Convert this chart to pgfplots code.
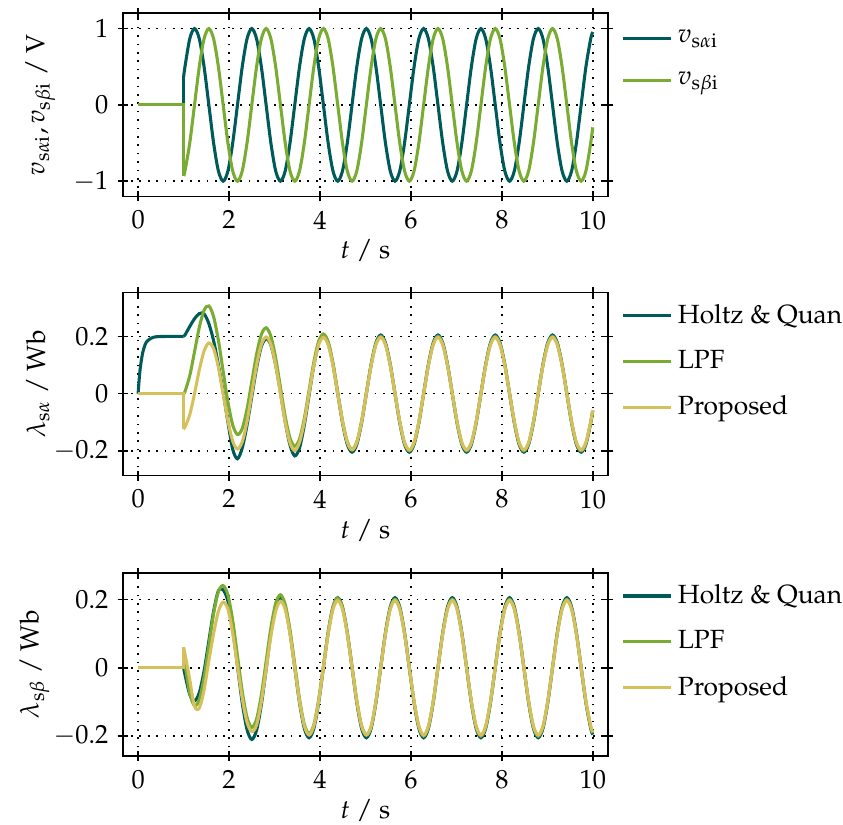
\documentclass[border=0pt]{standalone}
\usepackage[T1]{fontenc}
\usepackage{mathpazo}
\usepackage{pgfplots}
\pgfplotsset{compat=1.18}
\usepackage{pgfplotstable}

\definecolor{cteal}{RGB}{0,90,90}
\definecolor{cgreen}{RGB}{122,172,52}
\definecolor{cyellow}{RGB}{214,192,92}

\pgfplotstableread{
t a b ah al ap bh bl bp
1 0.3654 -0.9309 0.2 0 -0.1222 0 0.03 0.06
1.03 0.5 -0.866 0.205 0.0073 -0.1171 -0.02 0.0097 0.04
1.135 0.866 -0.5 0.235 0.0625 -0.0737 -0.078 -0.0745 -0.035
1.24 1 0 0.262 0.1463 0 -0.097 -0.1111 -0.113
1.345 0.866 0.5 0.28 0.2317 0.0827 -0.073 -0.0932 -0.118
1.45 0.5 0.866 0.279 0.2918 0.149 -0.01 -0.028 -0.065
1.555 0 1 0.245 0.3068 0.1773 0.078 0.0649 0.02
1.66 -0.5 0.866 0.185 0.2693 0.1573 0.165 0.1584 0.1
1.765 -0.866 0.5 0.1 0.1865 0.0926 0.225 0.2228 0.165
1.87 -1 0 0.005 0.0779 0 0.228 0.2403 0.192
1.975 -0.866 -0.5 -0.1 -0.0298 -0.0951 0.195 0.2128 0.172
2.08 -0.5 -0.866 -0.195 -0.11 -0.1663 0.115 0.1384 0.1
2.185 0 -1 -0.228 -0.1431 -0.1936 0.005 0.0345 0.005
2.29 0.5 -0.866 -0.19 -0.122 -0.1687 -0.103 -0.0689 -0.09
2.395 0.866 -0.5 -0.11 -0.0539 -0.0979 -0.181 -0.1452 -0.16
2.5 1 0 -0.01 0.0415 0 -0.21 -0.1748 -0.187
2.605 0.866 0.5 0.09 0.1374 0.0986 -0.183 -0.1505 -0.168
2.71 0.5 0.866 0.165 0.2068 0.1712 -0.108 -0.0796 -0.1
2.815 0 1 0.192 0.2303 0.1982 -0.005 0.0184 -0.005
2.92 -0.5 0.866 0.17 0.2005 0.1719 0.1025 0.1166 0.092
3.025 -0.866 0.5 0.1 0.1245 0.0994 0.1775 0.1881 0.165
3.13 -1 0 0.005 0.0221 0 0.205 0.2134 0.195
3.235 -0.866 -0.5 -0.098 -0.0801 -0.0996 0.1775 0.1853 0.1706
3.34 -0.5 -0.866 -0.18 -0.1553 -0.1726 0.1025 0.1109 0.0985
3.445 0 -1 -0.218 -0.1839 -0.1995 0 0.0098 0
3.55 0.5 -0.866 -0.19 -0.1587 -0.1706 -0.1025 -0.0912 -0.0985
3.655 0.866 -0.5 -0.11 -0.0869 -0.0985 -0.1775 -0.1653 -0.1706
3.76 1 0 -0.005 0.0118 0 -0.205 -0.1928 -0.197
3.865 0.866 0.5 0.098 0.1106 0.0985 -0.1775 -0.1668 -0.1706
3.97 0.5 0.866 0.175 0.1827 0.1706 -0.1025 -0.0942 -0.0985
4.075 0 1 0.205 0.2086 0.197 0 0.0052 0
4.18 -0.5 0.866 0.1775 0.1809 0.1706 0.1025 0.1047 0.0985
4.285 -0.866 0.5 0.1025 0.107 0.0985 0.1775 0.1774 0.1706
4.39 -1 0 0 0.0063 0 0.205 0.2038 0.197
4.495 -0.866 -0.5 -0.1025 -0.0944 -0.0985 0.1775 0.1766 0.1706
4.6 -0.5 -0.866 -0.1775 -0.1681 -0.1706 0.1025 0.1031 0.0985
4.705 0 -1 -0.205 -0.1954 -0.197 0 0.0046 0
4.81 0.5 -0.866 -0.1775 -0.1691 -0.1706 -0.1025 -0.0959 -0.0985
4.915 0.866 -0.5 -0.1025 -0.0963 -0.0985 -0.1775 -0.1695 -0.1706
5.02 1 0 0 0.0033 0 -0.205 -0.1967 -0.197
5.125 0.866 0.5 0.1025 0.1 0.0985 -0.1775 -0.1732 -0.1706
5.23 0.5 0.866 0.1775 0.1732 0.1706 -0.1025 -0.1 -0.0985
5.335 0 1 0.205 0.2 0.197 0 0 0
5.44 -0.5 0.866 0.1775 0.1732 0.1706 0.1025 0.1 0.0985
5.545 -0.866 0.5 0.1025 0.1 0.0985 0.1775 0.1732 0.1706
5.65 -1 0 0 0 0 0.205 0.2 0.197
5.755 -0.866 -0.5 -0.1025 -0.1 -0.0985 0.1775 0.1732 0.1706
5.86 -0.5 -0.866 -0.1775 -0.1732 -0.1706 0.1025 0.1 0.0985
5.965 0 -1 -0.205 -0.2 -0.197 0 0 0
6.07 0.5 -0.866 -0.1775 -0.1732 -0.1706 -0.1025 -0.1 -0.0985
6.175 0.866 -0.5 -0.1025 -0.1 -0.0985 -0.1775 -0.1732 -0.1706
6.28 1 0 0 0 0 -0.205 -0.2 -0.197
6.385 0.866 0.5 0.1025 0.1 0.0985 -0.1775 -0.1732 -0.1706
6.49 0.5 0.866 0.1775 0.1732 0.1706 -0.1025 -0.1 -0.0985
6.595 0 1 0.205 0.2 0.197 0 0 0
6.7 -0.5 0.866 0.1775 0.1732 0.1706 0.1025 0.1 0.0985
6.805 -0.866 0.5 0.1025 0.1 0.0985 0.1775 0.1732 0.1706
6.91 -1 0 0 0 0 0.205 0.2 0.197
7.015 -0.866 -0.5 -0.1025 -0.1 -0.0985 0.1775 0.1732 0.1706
7.12 -0.5 -0.866 -0.1775 -0.1732 -0.1706 0.1025 0.1 0.0985
7.225 0 -1 -0.205 -0.2 -0.197 0 0 0
7.33 0.5 -0.866 -0.1775 -0.1732 -0.1706 -0.1025 -0.1 -0.0985
7.435 0.866 -0.5 -0.1025 -0.1 -0.0985 -0.1775 -0.1732 -0.1706
7.54 1 0 0 0 0 -0.205 -0.2 -0.197
7.645 0.866 0.5 0.1025 0.1 0.0985 -0.1775 -0.1732 -0.1706
7.75 0.5 0.866 0.1775 0.1732 0.1706 -0.1025 -0.1 -0.0985
7.855 0 1 0.205 0.2 0.197 0 0 0
7.96 -0.5 0.866 0.1775 0.1732 0.1706 0.1025 0.1 0.0985
8.065 -0.866 0.5 0.1025 0.1 0.0985 0.1775 0.1732 0.1706
8.17 -1 0 0 0 0 0.205 0.2 0.197
8.275 -0.866 -0.5 -0.1025 -0.1 -0.0985 0.1775 0.1732 0.1706
8.38 -0.5 -0.866 -0.1775 -0.1732 -0.1706 0.1025 0.1 0.0985
8.485 0 -1 -0.205 -0.2 -0.197 0 0 0
8.59 0.5 -0.866 -0.1775 -0.1732 -0.1706 -0.1025 -0.1 -0.0985
8.695 0.866 -0.5 -0.1025 -0.1 -0.0985 -0.1775 -0.1732 -0.1706
8.8 1 0 0 0 0 -0.205 -0.2 -0.197
8.905 0.866 0.5 0.1025 0.1 0.0985 -0.1775 -0.1732 -0.1706
9.01 0.5 0.866 0.1775 0.1732 0.1706 -0.1025 -0.1 -0.0985
9.115 0 1 0.205 0.2 0.197 0 0 0
9.22 -0.5 0.866 0.1775 0.1732 0.1706 0.1025 0.1 0.0985
9.325 -0.866 0.5 0.1025 0.1 0.0985 0.1775 0.1732 0.1706
9.43 -1 0 0 0 0 0.205 0.2 0.197
9.535 -0.866 -0.5 -0.1025 -0.1 -0.0985 0.1775 0.1732 0.1706
9.64 -0.5 -0.866 -0.1775 -0.1732 -0.1706 0.1025 0.1 0.0985
9.745 0 -1 -0.205 -0.2 -0.197 0 0 0
9.85 0.5 -0.866 -0.1775 -0.1732 -0.1706 -0.1025 -0.1 -0.0985
9.955 0.866 -0.5 -0.1025 -0.1 -0.0985 -0.1775 -0.1732 -0.1706
10 0.9556 -0.2947 -0.0604 -0.0589 -0.0581 -0.1959 -0.1911 -0.1883
}\data

\pgfplotsset{
  myax/.style={
    scale only axis, width=173.4pt, height=65.4pt,
    anchor=north west,
    xmin=-0.34, xmax=10.34, xtick={0,2,...,10},
    grid=major,
    major grid style={black, line width=0.6pt, dash pattern=on 0.6pt off 2.4pt},
    tick align=center, major tick length=3.6pt,
    tick style={black, line width=0.6pt},
    axis line style={black, line width=0.6pt},
    xlabel={$t$ / s},
    xlabel style={yshift=2.8pt},
    legend style={draw=none, fill=none, at={(1,1)}, anchor=north west,
      xshift=1.5pt, yshift=0pt, row sep=4.3pt},
    legend cell align=left,
    every axis plot/.append style={line width=1.1pt},
  }
}

\begin{document}
\fontsize{9.4pt}{11pt}\selectfont
\begin{tikzpicture}
\useasboundingbox (-43.82pt,4.75pt) rectangle (257.25pt,-289.89pt);

\begin{axis}[myax, at={(0pt,0pt)},
  ymin=-1.2, ymax=1.2, ytick={-1,0,1},
  legend style={yshift=-1.8pt, row sep=5pt},
  ylabel={$v_{\mathrm{s}\alpha\mathrm{i}}, v_{\mathrm{s}\beta\mathrm{i}}$ / V}]
\addplot[cteal, sharp plot, forget plot] coordinates {(0,0) (1,0) (1,0.3654)};
\addplot[cteal, smooth] table[x=t, y=a] {\data};
\addlegendentry{$v_{\mathrm{s}\alpha\mathrm{i}}$}
\addplot[cgreen, sharp plot, forget plot] coordinates {(0,0) (1,0) (1,-0.9309)};
\addplot[cgreen, smooth] table[x=t, y=b] {\data};
\addlegendentry{$v_{\mathrm{s}\beta\mathrm{i}}$}
\end{axis}

\begin{axis}[myax, at={(0pt,-99.7pt)},
  ymin=-0.287, ymax=0.354, ytick={-0.2,0,0.2},
  ylabel shift=-5pt,
  ylabel={$\lambda_{\mathrm{s}\alpha}$ / Wb}]
\addplot[cteal, smooth, forget plot] coordinates {(0,0) (0.02,0.045) (0.05,0.094) (0.1,0.143) (0.15,0.170) (0.2,0.184) (0.3,0.195) (0.4,0.199) (0.6,0.2) (1,0.2)};
\addplot[cteal, smooth] table[x=t, y=ah] {\data};
\addlegendentry{Holtz \& Quan}
\addplot[cgreen, sharp plot, forget plot] coordinates {(0,0) (1,0)};
\addplot[cgreen, smooth] table[x=t, y=al] {\data};
\addlegendentry{LPF}
\addplot[cyellow, sharp plot, forget plot] coordinates {(0,0) (1,0) (1,-0.1222)};
\addplot[cyellow, smooth] table[x=t, y=ap] {\data};
\addlegendentry{Proposed}
\end{axis}

\begin{axis}[myax, at={(0pt,-199.8pt)},
  ymin=-0.258, ymax=0.278, ytick={-0.2,0,0.2},
  ylabel shift=-5pt,
  ylabel={$\lambda_{\mathrm{s}\beta}$ / Wb}]
\addplot[cteal, sharp plot, forget plot] coordinates {(0,0) (1,0)};
\addplot[cteal, smooth] table[x=t, y=bh] {\data};
\addlegendentry{Holtz \& Quan}
\addplot[cgreen, sharp plot, forget plot] coordinates {(0,0) (1,0) (1,0.03)};
\addplot[cgreen, smooth] table[x=t, y=bl] {\data};
\addlegendentry{LPF}
\addplot[cyellow, sharp plot, forget plot] coordinates {(0,0) (1,0) (1,0.06)};
\addplot[cyellow, smooth] table[x=t, y=bp] {\data};
\addlegendentry{Proposed}
\end{axis}
\end{tikzpicture}
\end{document}
